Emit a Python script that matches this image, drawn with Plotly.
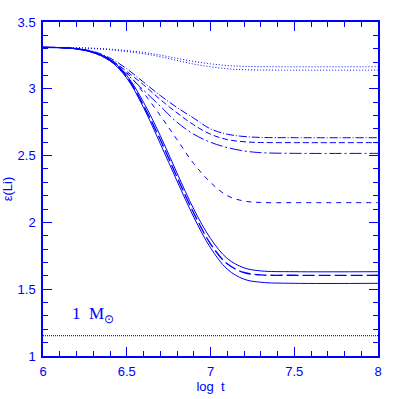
import plotly.graph_objects as go

BLUE = "#0000ff"

# log t sample points per curve
x_fine = [6.0, 6.1, 6.2, 6.3, 6.4, 6.5, 6.6, 6.7, 6.8, 6.9, 7.0, 7.1, 7.2, 7.3, 7.5, 8.0]
x_dot = [6.0, 6.2, 6.4, 6.6, 6.7, 6.8, 6.9, 7.0, 7.1, 7.2, 7.4, 8.0]

# lithium abundance curves
dot_upper = [3.31, 3.308, 3.297, 3.272, 3.252, 3.228, 3.205, 3.187, 3.174, 3.168, 3.165, 3.165]
dot_lower = [3.31, 3.307, 3.292, 3.262, 3.24, 3.212, 3.185, 3.165, 3.150, 3.143, 3.14, 3.14]
dashdot_upper = [3.31, 3.308, 3.30, 3.28, 3.23, 3.15, 3.05, 2.95, 2.86, 2.78, 2.70, 2.66, 2.643, 2.636, 2.634, 2.634]
dash_mid = [3.31, 3.308, 3.30, 3.275, 3.22, 3.13, 3.03, 2.92, 2.82, 2.73, 2.66, 2.62, 2.604, 2.598, 2.597, 2.597]
dashdot_lower = [3.31, 3.308, 3.30, 3.27, 3.21, 3.11, 2.99, 2.87, 2.75, 2.66, 2.60, 2.56, 2.535, 2.522, 2.517, 2.517]
dash_short = [3.31, 3.308, 3.298, 3.275, 3.22, 3.12, 2.97, 2.80, 2.62, 2.44, 2.30, 2.20, 2.16, 2.149, 2.148, 2.148]
solid_upper = [3.31, 3.308, 3.30, 3.275, 3.22, 3.10, 2.90, 2.65, 2.37, 2.10, 1.88, 1.73, 1.66, 1.637, 1.631, 1.631]
longdash = [3.31, 3.308, 3.30, 3.272, 3.215, 3.09, 2.875, 2.62, 2.34, 2.07, 1.84, 1.69, 1.625, 1.607, 1.604, 1.604]
solid_lower = [3.31, 3.308, 3.30, 3.27, 3.21, 3.08, 2.86, 2.59, 2.31, 2.04, 1.81, 1.65, 1.575, 1.552, 1.544, 1.544]
x_flat = [6.0, 8.0]
black_flat = [1.152, 1.152]

fig = go.Figure()


def add(x, y, dash, width=1.0, color=BLUE):
    fig.add_trace(go.Scatter(x=x, y=y, mode="lines", line_shape="spline",
                             line=dict(color=color, width=width, dash=dash),
                             showlegend=False, hoverinfo="skip"))


add(x_dot, dot_upper, "1px,2px")
add(x_dot, dot_lower, "1px,2px")
add(x_fine, dashdot_upper, "8px,2px,1px,2px")
add(x_fine, dash_mid, "6px,3px")
add(x_fine, dashdot_lower, "12px,3px,2px,3px")
add(x_fine, dash_short, "5px,5px")
add(x_fine, solid_upper, "solid")
add(x_fine, longdash, "12px,4px", width=1.4)
add(x_fine, solid_lower, "solid")
add(x_flat, black_flat, "1px,1px", color="black")

fig.add_annotation(x=6.30, y=1.31, text="1  M<sub>⊙</sub>", showarrow=False,
                   font=dict(family="Liberation Serif", size=17, color=BLUE))

axis_common = dict(
    showline=True, linecolor=BLUE, linewidth=1.5, mirror="allticks",
    ticks="inside", ticklen=9, tickwidth=1, tickcolor=BLUE,
    showgrid=False, zeroline=False, automargin=False, ticklabelstandoff=3,
    tickfont=dict(family="Liberation Sans", size=13, color=BLUE),
)

fig.update_xaxes(range=[6, 8], tickvals=[6, 6.5, 7, 7.5, 8],
                 ticktext=["6", "6.5", "7", "7.5", "8"],
                 minor=dict(dtick=0.1, ticks="inside", ticklen=5, tickcolor=BLUE),
                 title=dict(text="log  t", font=dict(family="Liberation Sans", size=13, color=BLUE), standoff=3),
                 **axis_common)
fig.update_yaxes(range=[1, 3.5], tickvals=[1, 1.5, 2, 2.5, 3, 3.5],
                 ticktext=["1", "1.5", "2", "2.5", "3", "3.5"],
                 minor=dict(dtick=0.1, ticks="inside", ticklen=5, tickcolor=BLUE),
                 title=dict(text="ε(Li)", font=dict(family="Liberation Sans", size=13, color=BLUE), standoff=2),
                 **axis_common)

fig.update_layout(width=399, height=399, paper_bgcolor="white", plot_bgcolor="white",
                  margin=dict(l=43, r=21, t=22, b=43))

fig.write_html("out.html", config={"displayModeBar": False},
               post_script="document.body.style.margin='0';")
